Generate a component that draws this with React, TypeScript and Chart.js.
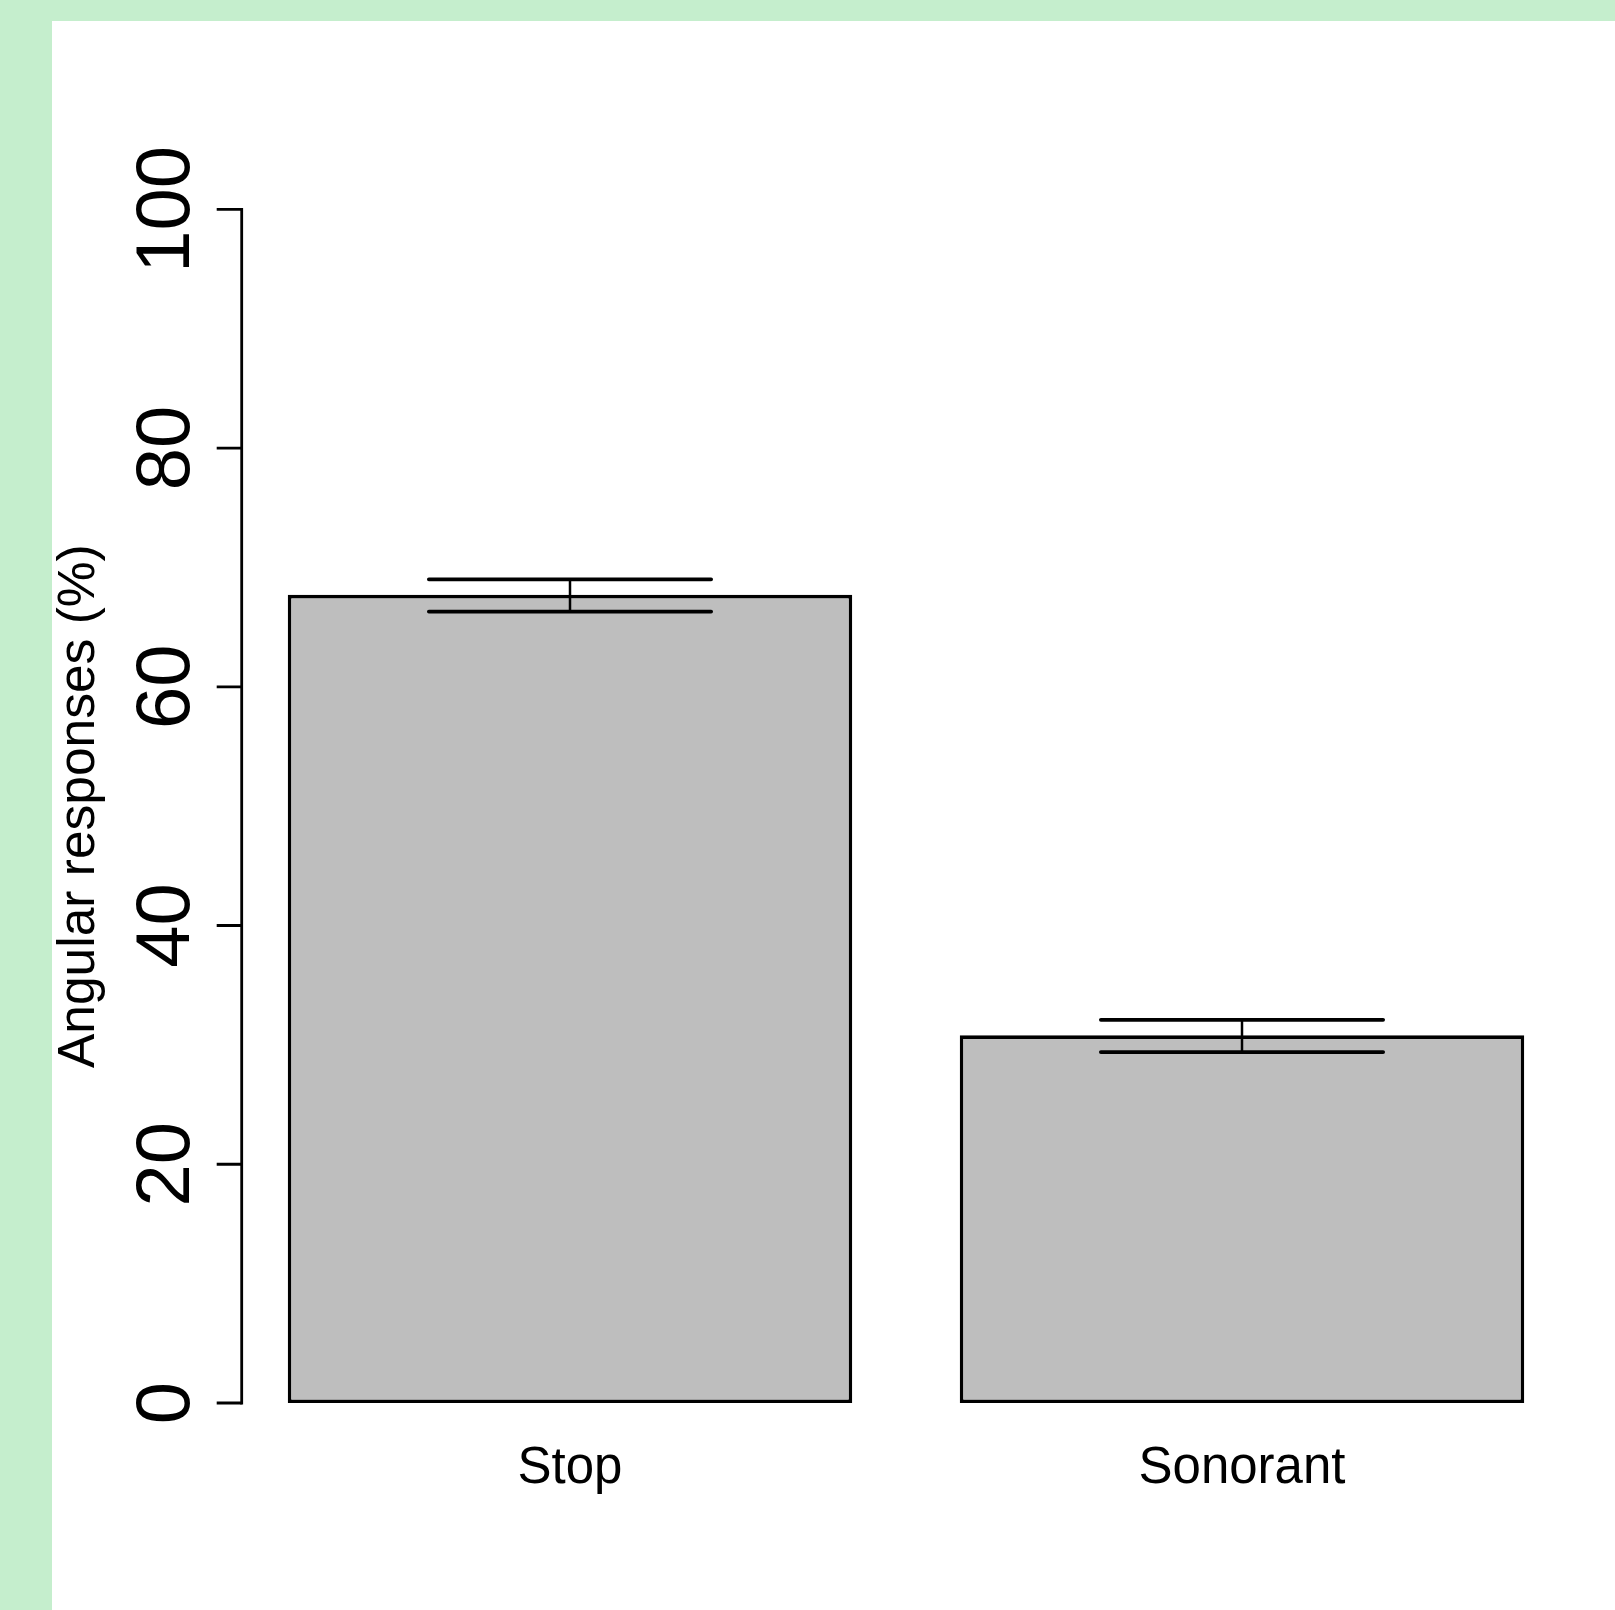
import React, { useEffect, useRef } from "react";
import { Chart, registerables } from "chart.js";

Chart.register(...registerables);

const categories = ["Stop", "Sonorant"];
const means = [67.7, 30.8];
const errUpper = [69.0, 32.1];
const errLower = [66.3, 29.4];
const yTicks = [0, 20, 40, 60, 80, 100];
const yTitle = "Angular responses (%)";

const FONT = '"Liberation Sans", Arial, Helvetica, sans-serif';

const CANVAS_W = 1563;
const CANVAS_H = 1589;

const rStylePlugin = {
  id: "rStyle",
  afterDatasetsDraw(chart: any) {
    const ctx = chart.ctx as CanvasRenderingContext2D;
    const xScale = chart.scales.x;
    const yScale = chart.scales.y;
    const meta = chart.getDatasetMeta(0);
    ctx.save();
    ctx.strokeStyle = "#000";
    ctx.fillStyle = "#000";

    // error bars
    meta.data.forEach((bar: any, i: number) => {
      const cx = bar.x;
      const half = bar.width * 0.25;
      const yHi = yScale.getPixelForValue(errUpper[i]);
      const yLo = yScale.getPixelForValue(errLower[i]);
      ctx.lineWidth = 2.5;
      ctx.beginPath();
      ctx.moveTo(cx, yHi);
      ctx.lineTo(cx, yLo);
      ctx.stroke();
      ctx.lineWidth = 3.8;
      ctx.lineCap = "round";
      ctx.beginPath();
      ctx.moveTo(cx - half, yHi);
      ctx.lineTo(cx + half, yHi);
      ctx.moveTo(cx - half, yLo);
      ctx.lineTo(cx + half, yLo);
      ctx.stroke();
      ctx.lineCap = "butt";
    });

    // y axis (R style)
    const axisX = 189.7;
    const y0 = yScale.getPixelForValue(yTicks[0]);
    const y1 = yScale.getPixelForValue(yTicks[yTicks.length - 1]);
    ctx.lineWidth = 2.8;
    ctx.lineCap = "square";
    ctx.beginPath();
    ctx.moveTo(axisX, y0);
    ctx.lineTo(axisX, y1);
    ctx.stroke();
    ctx.lineCap = "butt";
    ctx.beginPath();
    yTicks.forEach((t) => {
      const py = yScale.getPixelForValue(t);
      ctx.moveTo(axisX, py);
      ctx.lineTo(axisX - 25, py);
    });
    ctx.stroke();

    ctx.font = `76px ${FONT}`;
    ctx.textAlign = "center";
    ctx.textBaseline = "alphabetic";
    yTicks.forEach((t) => {
      const py = yScale.getPixelForValue(t);
      ctx.save();
      ctx.translate(137, py);
      ctx.rotate(-Math.PI / 2);
      ctx.fillText(String(t), 0, 0);
      ctx.restore();
    });

    // y title
    ctx.font = `51.5px ${FONT}`;
    ctx.save();
    ctx.translate(42, (y0 + y1) / 2);
    ctx.rotate(-Math.PI / 2);
    ctx.fillText(yTitle, 0, 0);
    ctx.restore();

    // x labels
    ctx.font = `51px ${FONT}`;
    categories.forEach((c, i) => {
      const px = xScale.getPixelForValue(i);
      ctx.fillText(c, px, 1462);
    });

    ctx.restore();
  },
};

export default function App() {
  const ref = useRef<HTMLCanvasElement | null>(null);
  useEffect(() => {
    if (!ref.current) return;
    const chart = new Chart(ref.current, {
      type: "bar",
      data: {
        labels: categories,
        datasets: [
          {
            data: means,
            backgroundColor: "#bebebe",
            borderColor: "#000",
            borderWidth: 3.6,
            borderSkipped: false,
            categoryPercentage: 1,
            barPercentage: 0.84,
          },
        ],
      },
      options: {
        animation: false,
        responsive: false,
        devicePixelRatio: 1,
        layout: {
          padding: { left: 182, right: 37, top: 188.3, bottom: 207 },
        },
        plugins: {
          legend: { display: false },
          tooltip: { enabled: false },
          title: { display: false },
        },
        scales: {
          x: { type: "category", display: false, offset: true, grid: { display: false } },
          y: { type: "linear", display: false, min: 0, max: 100 },
        },
      },
      plugins: [rStylePlugin],
    });
    return () => chart.destroy();
  }, []);

  return (
    <div
      style={{
        position: "absolute",
        left: 0,
        top: 0,
        width: 1615,
        height: 1610,
        background: "#c5eecd",
        overflow: "hidden",
      }}
    >
      <canvas
        ref={ref}
        width={CANVAS_W}
        height={CANVAS_H}
        style={{
          position: "absolute",
          left: 52,
          top: 21,
          width: CANVAS_W,
          height: CANVAS_H,
          background: "#ffffff",
          display: "block",
        }}
      />
    </div>
  );
}
